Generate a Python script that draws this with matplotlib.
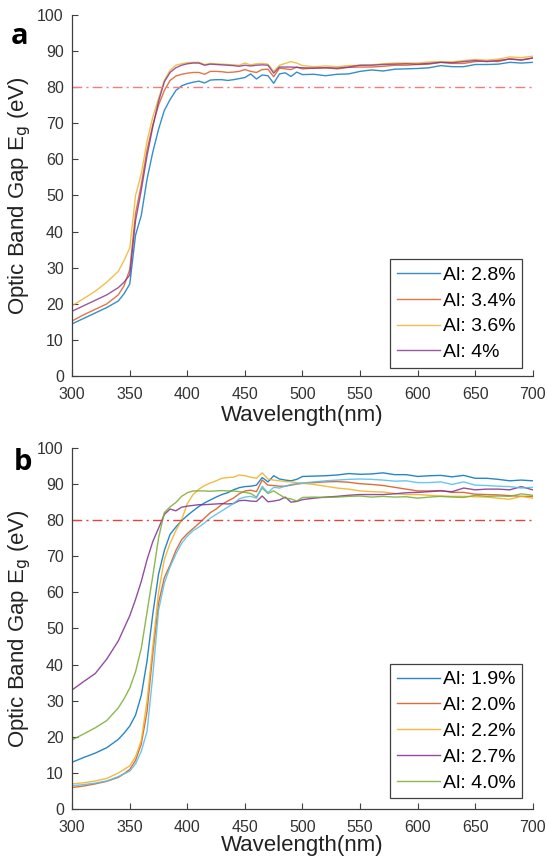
import matplotlib
matplotlib.use("Agg")
import matplotlib.pyplot as plt
import numpy as np

# wavelength grid (nm)
wl = [300, 310, 320, 330,
      340, 345, 350, 355, 360, 365, 370, 375, 380, 385, 390, 395, 400, 405, 410, 415,
      420, 425, 430, 435, 440, 445, 450, 455, 460, 465, 470, 475, 480, 485, 490, 495, 500,
      510, 520, 530, 540, 550, 560, 570, 580, 590, 600, 610, 620, 630, 640, 650, 660, 670,
      680, 690, 700]

# panel a
a_28 = [14.5, 16.0, 17.5, 19.0,
        20.8, 22.8, 25.5, 39.0, 44.5, 54.5, 62.0, 68.3, 73.5, 76.5, 79.0, 80.3, 80.9, 81.3, 81.6, 81.1,
        81.9, 82.0, 82.0, 81.8, 82.0, 82.3, 82.6, 83.6, 82.2, 83.3, 83.1, 81.0, 83.6, 83.9, 82.9, 84.1, 83.4,
        83.5, 83.1, 83.5, 83.6, 84.3, 84.7, 84.4, 84.9, 85.0, 85.1, 85.3, 85.9, 85.6, 85.6, 86.2, 86.2, 86.3,
        86.8, 86.6, 86.8]
a_34 = [15.3, 17.0, 18.5, 20.0,
        22.5, 25.0, 29.5, 45.0, 53.0, 62.5, 69.5, 75.0, 79.0, 81.8, 83.0, 83.5, 83.8, 84.0, 84.0, 83.5,
        84.3, 84.3, 84.2, 84.0, 84.1, 84.3, 84.8, 84.3, 84.0, 84.8, 84.9, 82.8, 85.2, 85.0, 84.8, 85.5, 85.0,
        85.2, 85.3, 85.0, 85.4, 85.5, 85.5, 85.7, 86.0, 86.0, 86.2, 86.3, 86.8, 86.5, 86.5, 87.0, 87.2, 87.0,
        87.8, 87.5, 88.0]
a_36 = [19.5, 21.5, 23.5, 26.0,
        29.0, 32.0, 35.5, 50.0, 56.0, 65.0, 71.7, 76.8, 81.8, 84.6, 86.0, 86.4, 86.7, 86.8, 86.8, 86.2,
        86.5, 86.4, 86.3, 86.2, 86.1, 86.0, 86.6, 86.1, 86.4, 86.5, 86.3, 84.3, 86.0, 86.5, 87.0, 86.6, 85.9,
        85.6, 85.8, 85.6, 85.9, 86.0, 86.1, 86.4, 86.6, 86.6, 86.6, 86.9, 87.0, 86.9, 87.3, 87.6, 87.4, 87.7,
        88.3, 88.1, 88.5]
a_40 = [18.0, 19.5, 21.0, 22.5,
        24.5, 26.0, 28.0, 43.0, 51.5, 61.0, 69.0, 76.0, 81.4, 84.0, 85.3, 86.0, 86.4, 86.6, 86.6, 86.0,
        86.3, 86.2, 86.1, 86.0, 85.9, 85.7, 86.0, 85.8, 86.0, 86.1, 86.0, 83.8, 85.5, 85.5, 85.5, 85.4, 85.3,
        85.2, 85.3, 85.2, 85.5, 86.0, 86.0, 86.2, 86.3, 86.4, 86.3, 86.5, 86.8, 86.7, 87.0, 87.3, 87.0, 87.3,
        87.7, 87.4, 88.0]
labels_a = ["Al: 2.8%", "Al: 3.4%", "Al: 3.6%", "Al: 4%"]

# panel b
b_19 = [13.0, 14.3, 15.5, 17.0,
        19.3, 21.0, 23.0, 26.0, 31.5, 41.0, 54.0, 65.0, 71.5, 76.0, 78.0, 79.8, 81.2, 82.5, 83.7, 84.7,
        85.5, 86.3, 87.0, 87.5, 88.3, 88.9, 89.2, 89.3, 89.6, 91.7, 90.5, 92.2, 91.3, 91.0, 90.8, 91.2, 92.0,
        92.1, 92.2, 92.4, 92.8, 92.6, 92.7, 93.0, 92.5, 92.5, 92.0, 92.2, 92.3, 91.9, 92.3, 91.5, 91.5, 91.2,
        90.8, 91.0, 90.8]
b_20 = [6.0, 6.4, 7.0, 7.7,
        8.8, 9.8, 11.0, 13.5, 18.0, 27.0, 43.0, 57.0, 64.0, 67.5, 71.5, 74.5, 76.2, 77.6, 79.0, 80.5,
        82.0, 83.0, 84.3, 85.2, 86.0, 87.2, 88.0, 88.2, 87.8, 91.0, 89.6, 89.5, 89.3, 89.3, 89.6, 89.9, 90.1,
        90.3, 90.5, 90.6, 90.4, 90.0, 89.8, 89.5, 89.0, 88.5, 88.0, 88.0, 88.1, 87.6, 87.6, 87.1, 87.0, 86.9,
        86.7, 86.5, 86.5]
b_22 = [7.0, 7.3, 7.8, 8.5,
        10.0, 11.0, 12.0, 14.5, 19.0, 30.0, 45.0, 60.0, 69.0, 73.5, 77.0, 80.0, 84.5, 87.0, 88.5, 89.5,
        90.2, 90.8, 91.5, 91.7, 91.8, 92.4, 92.2, 91.8, 91.5, 93.0, 91.3, 91.0, 90.8, 90.6, 90.5, 90.3, 90.1,
        89.8, 89.3, 88.8, 88.5, 88.0, 87.8, 87.7, 87.3, 87.0, 87.0, 86.8, 86.6, 86.5, 86.5, 86.4, 86.3, 86.0,
        85.7, 86.5, 86.0]
b_27 = [33.0, 35.3, 37.5, 41.5,
        46.5, 50.0, 53.5, 58.0, 63.0, 69.0, 74.0, 77.7, 81.5, 83.0, 82.5, 83.5, 83.8, 84.0, 84.2, 84.2,
        84.3, 84.4, 84.5, 84.4, 84.5, 85.3, 85.4, 85.2, 85.1, 86.6, 85.0, 85.2, 85.5, 86.3, 84.9, 85.1, 85.6,
        86.0, 86.3, 86.5, 86.8, 87.0, 87.0, 87.0, 87.2, 87.5, 87.6, 87.8, 88.0, 87.8, 88.8, 88.3, 88.5, 88.5,
        88.3, 89.2, 88.3]
b_40 = [19.2, 20.8, 22.5, 24.5,
        28.0, 30.5, 33.5, 38.0, 44.5, 54.5, 64.5, 75.0, 82.0, 83.6, 84.8, 86.5, 87.5, 88.0, 88.0, 88.0,
        87.9, 88.0, 88.1, 88.0, 88.0, 87.8, 87.6, 87.3, 86.3, 88.8, 87.3, 88.0, 87.0, 86.0, 85.8, 85.2, 86.2,
        86.3, 86.2, 86.3, 86.5, 86.6, 86.3, 86.5, 86.3, 86.4, 86.0, 86.3, 86.5, 86.3, 86.2, 86.8, 86.5, 86.6,
        86.5, 87.2, 86.8]
b_lb = [6.5, 6.8, 7.2, 7.8,
        9.0, 9.8, 10.5, 12.5, 16.0, 21.5, 37.0, 55.0, 62.5, 67.0, 70.5, 73.5, 75.5, 77.0, 78.0, 79.2,
        80.5, 81.5, 82.5, 83.5, 84.5, 85.8, 86.3, 86.5, 86.0, 89.3, 87.5, 89.0, 88.8, 89.3, 89.8, 90.0, 90.2,
        90.5, 90.8, 91.0, 91.2, 91.3, 91.2, 91.0, 90.7, 90.8, 90.3, 90.3, 90.5, 89.8, 90.5, 89.6, 89.5, 89.3,
        89.2, 88.8, 89.0]
labels_b = ["Al: 1.9%", "Al: 2.0%", "Al: 2.2%", "Al: 2.7%", "Al: 4.0%"]

threshold = 80
colors = ["#0072BD", "#D95319", "#EDB120", "#7E2F8E", "#77AC30", "#4DBEEE"]

plt.rcParams['font.family'] = ['Liberation Sans', 'DejaVu Sans']

fig = plt.figure(figsize=(5.47, 8.59), dpi=100)
ax_a = fig.add_axes([0.132, 0.562, 0.842, 0.421])
ax_b = fig.add_axes([0.132, 0.058, 0.842, 0.421])


def style_axis(ax, xpad):
    ax.set_xlim(300, 700)
    ax.set_ylim(0, 100)
    ax.set_xticks(np.arange(300, 701, 50))
    ax.set_yticks(np.arange(0, 101, 10))
    ax.spines['top'].set_visible(False)
    ax.spines['right'].set_visible(False)
    for s in ['left', 'bottom']:
        ax.spines[s].set_color('#404040')
        ax.spines[s].set_linewidth(0.9)
    ax.tick_params(direction='in', length=4, width=0.8, color='#404040',
                   labelsize=11.5, labelcolor='#333333')
    ax.tick_params(axis='x', pad=8)
    ax.tick_params(axis='y', pad=6)
    ax.set_xlabel('Wavelength(nm)', fontsize=16, color='#222222', labelpad=xpad)
    ax.set_ylabel('Optic Band Gap E$_\\mathrm{g}$ (eV)', fontsize=16, color='#222222', labelpad=3)


def add_legend(ax, y0):
    leg = ax.legend(loc='lower right', bbox_to_anchor=(0.977, y0), fontsize=14,
                    handlelength=2.2, handletextpad=0.15, labelspacing=0.42,
                    borderpad=0.35, fancybox=False, framealpha=1, borderaxespad=0)
    leg.get_frame().set_edgecolor('#404040')
    leg.get_frame().set_linewidth(0.9)


dashdot = (0, (7, 3, 1.5, 3))

# panel a
for ys, c, lab in zip([a_28, a_34, a_36, a_40], colors, labels_a):
    ax_a.plot(wl, ys, color=c, lw=1.0, label=lab, alpha=0.8)
ax_a.plot([300, 700], [threshold, threshold], linestyle=dashdot, color='#F47C7C', lw=1.0)
style_axis(ax_a, 2)
add_legend(ax_a, 0.023)

# panel b
for ys, c, lab in zip([b_19, b_20, b_22, b_27, b_40], colors, labels_b):
    ax_b.plot(wl, ys, color=c, lw=1.0, label=lab, alpha=0.85)
ax_b.plot(wl, b_lb, color=colors[5], lw=1.0, alpha=0.85)
ax_b.plot([300, 700], [threshold, threshold], linestyle=dashdot, color='#E0443F', lw=1.0)
style_axis(ax_b, 0)
add_legend(ax_b, 0.03)

fig.text(0.02, 0.949, 'a', fontsize=21, fontweight='bold', family='Open Sans')
fig.text(0.025, 0.453, 'b', fontsize=21, fontweight='bold', family='Open Sans')

fig.savefig('out.png', dpi=100)
